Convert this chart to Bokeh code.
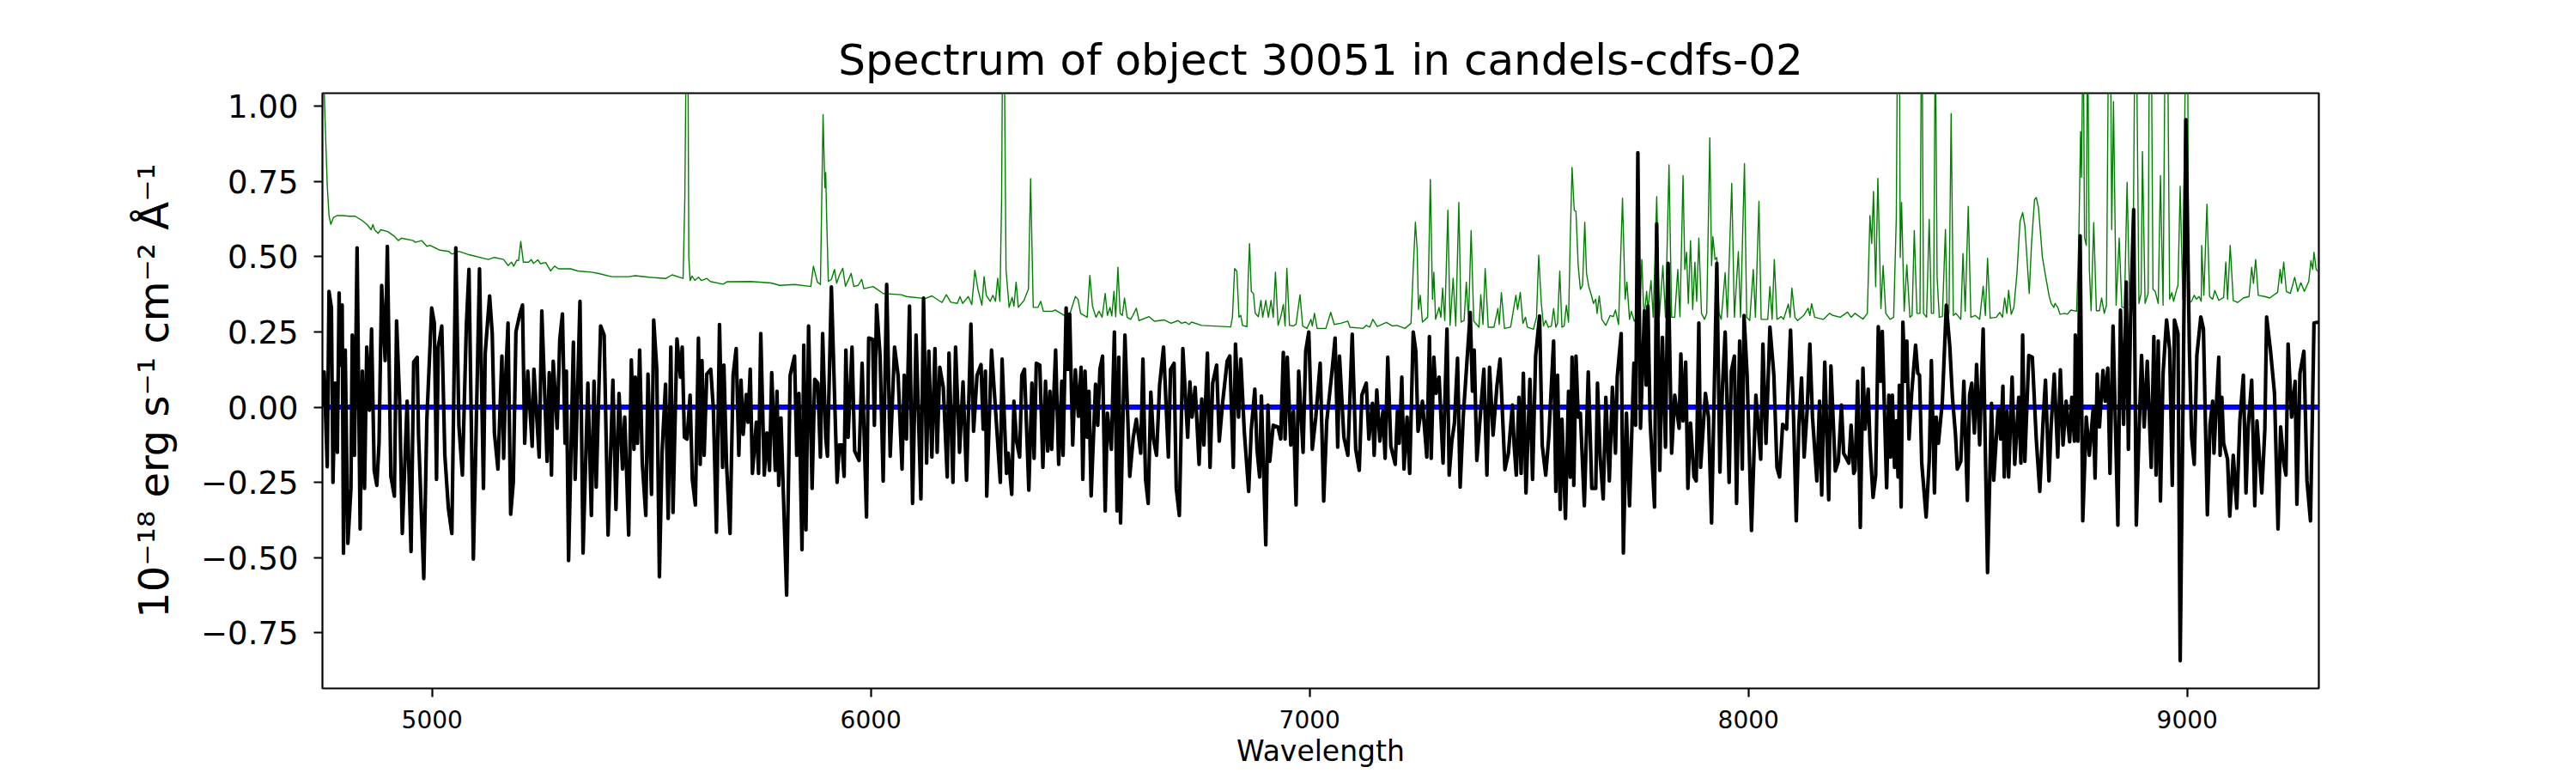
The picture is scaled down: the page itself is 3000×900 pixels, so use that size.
from bokeh.plotting import figure
from bokeh.models import Range1d, FixedTicker
from bokeh.embed import file_html
from bokeh.resources import INLINE

title_text = "Spectrum of object 30051 in candels-cdfs-02"
x_label = "Wavelength"
y_label = "10\u207b\u00b9\u2078 erg s\u207b\u00b9 cm\u207b\u00b2 \u00c5\u207b\u00b9"
x_ticks = [5000, 6000, 7000, 8000, 9000]
y_ticks = [-0.75, -0.5, -0.25, 0.0, 0.25, 0.5, 0.75, 1.0]
y_tick_labels = ["\u22120.75", "\u22120.50", "\u22120.25", "0.00", "0.25", "0.50", "0.75", "1.00"]
x_limits = [4750, 9300]
y_limits = [-0.935, 1.044]

# (wavelength, flux)
flux_a = [(4750,0.0),(4754,.117),(4761,-.198),(4765,.385),(4770.5,.33),(4774,-.25),(4779,.08),(4784,-.15),(4788,.38),(4791,.14),(4795,.34),(4798,-.486),(4802,.19),(4808,-.453),(4815,-.27),(4818,.24),(4823,-.16),(4829,.53),(4836,-.405),(4841,.12),(4846,-.27),(4851,.2),(4857,-.01),(4862,.26),(4868,-.21),(4874,-.26),(4879,-.12),(4885,.405),(4893,.155),(4898,.535),(4906,-.23),(4914,-.296),(4919,.287),(4926,.02),(4932,-.42),(4943,.02),(4952,-.48),(4958,.15),(4966,.166),(4969,-.09),(4981,-.57),(4988,-.04),(4999,.33),(5005,.28),(5010,-.24),(5014,.2),(5022,.27),(5029,-.16),(5037,-.335),(5045,-.42),(5054,.53),(5061,-.06),(5069,-.226),(5078,.27),(5084,.458),(5094,-.505),(5100,-.10),(5108,.46),(5117,-.27),(5121,.18),(5131,.37),(5137,.245),(5142,-.086),(5150,-.206),(5159,.17),(5163,-.17),(5168,.11),(5173,.28),(5179,-.356),(5185,-.25),(5191,.25),(5200,.31),(5206,.34),(5211,-.12),(5218,.12),(5228,-.13),(5232,.126),(5244,-.166),(5250,.32),(5262,-.18),(5267,.115),(5272,-.226),(5276,.153),(5285,-.07),(5291,.226),(5297,.31),(5303,-.12),(5306,.12),(5311,-.51),(5322,.216),(5326,-.24),(5337,.352),(5344,-.485),(5355,.08),(5363,-.36),(5369,.086),(5374,-.266),(5384,.27),(5392,.24),(5401,-.425),(5412,.09),(5419,-.34),(5426,.046),(5434,-.206),(5439,-.033),(5448,-.425),(5454,.157),(5460,-.14),(5463,.1),(5468,-.12),(5473,.19),(5479,-.186),(5487,-.36),(5492,.11),(5500,-.29),(5505,.29),(5512,.126),(5518,-.564),(5524,-.15),(5532,.076),(5538,-.37),(5544,.2),(5549,-.35),(5558,.227),(5566,.1),(5570,.2),(5575,-.1),(5581,-.106),(5588,.04),(5593,-.24),(5600,-.325),(5607,.23),(5611,-.19),(5615,.155),(5620,-.16),(5626,.11),(5635,.126),(5641,-.006),(5648,-.416),(5655,.275),(5662,-.2),(5665,.14),(5671,-.19),(5679,-.42),(5686,.106),(5693,.195),(5699,-.16),(5704,.09),(5709,-.09),(5716,.042),(5720,-.05),(5725,.126),(5730,-.22),(5739,-.05),(5744,-.22),(5749,.245),(5757,-.226),(5763,-.086),(5769,-.21),(5774,.115),(5782,-.21),(5786,.053),(5790,-.26),(5795,-.036),(5808,-.625),(5816,.106),(5826,.17),(5831,-.16),(5836,.046),(5843,-.474),(5847,.206),(5852,-.408),(5858,.27),(5866,-.27),(5872,.093),(5879,.08),(5885,-.166),(5890,.245),(5897,-.1),(5901,-.163),(5910,.40),(5923,-.25),(5928,-.126)]
flux_b = [(5934,-.126),(5939,-.23),(5943,.19),(5948,-.1),(5957,.2),(5963,-.146),(5973,-.177),(5980,.146),(5990,-.365),(5995,.23),(6004,.226),(6008,-.06),(6013,.34),(6021,.17),(6028,-.246),(6036,.408),(6044,-.163),(6054,.2),(6062,.106),(6071,-.206),(6076,.106),(6081,-.106),(6088,.336),(6095,-.32),(6103,.24),(6114,-.305),(6120,.3625),(6127,-.186),(6132,.186),(6139,-.166),(6146,.195),(6151,-.15),(6157,.133),(6165,.066),(6174,-.232),(6178,.18),(6187,-.25),(6193,.2),(6202,-.15),(6210,.084),(6218,-.243),(6228,.276),(6234,-.08),(6242,.106),(6251,.142),(6256,-.073),(6261,.12),(6264,-.296),(6275,.19),(6287,-.073),(6295,-.25),(6299,.16),(6309,-.22),(6313,-.153),(6321,-.29),(6326,.02),(6332,-.113),(6339,-.166),(6344,.106),(6350,.126),(6360,-.276),(6367,.08),(6372,-.17),(6377,.146),(6385,.14),(6392,-.2),(6398,.086),(6403,-.146),(6408,.053),(6412,-.14),(6421,.19),(6428,-.19),(6435,.086),(6438,-.16),(6445,.33),(6449,.126),(6453,.31),(6460,-.126),(6466,.124),(6473,-.03),(6479,.133),(6483,-.24),(6488,.12),(6493,-.1),(6497,.053),(6502,-.295),(6512,.076),(6517,-.06),(6522,.126),(6528,.17),(6534,-.345),(6539,-.02),(6548,-.14),(6555,.25),(6561,-.345),(6565,.166),(6569,-.385),(6579,.24),(6590,-.23),(6598,-.1),(6605,-.04),(6615,-.153),(6620,.16),(6626,-.24),(6632,-.32),(6638,.05),(6644,-.106),(6651,-.16),(6658,.073),(6667,.2),(6678,-.166),(6683,.126),(6691,.146),(6696,-.27),(6703,-.36),(6711,.195),(6722,-.1),(6727,.084),(6732,-.033),(6739,.066),(6748,-.19),(6754,.027),(6759,-.126),(6767,.18),(6773,-.2),(6779,.08),(6788,.14),(6794,-.113),(6802,.02),(6812,.153),(6818,.17),(6826,-.2),(6831,.21),(6838,-.033),(6843,.16),(6851,-.08),(6861,-.28),(6867,-.073),(6875,.06),(6880,-.14),(6886,-.232),(6890,.037),(6900,-.458),(6905,.007),(6909,-.18),(6917,-.06),(6928,-.066),(6934,-.106),(6940,.182),(6944,-.106),(6949,.166),(6957,-.126),(6963,-.013),(6969,-.325),(6975,.12),(6985,-.15),(6991,.186),(6998,.25),(7006,-.14),(7014,-.033),(7024,.146),(7032,-.312),(7039,-.046),(7051,.12),(7058,.23),(7064,-.133),(7068,.17),(7078,-.1),(7087,-.16),(7097,.243),(7105,-.14),(7113,-.21),(7119,.04),(7129,.08),(7135,-.106),(7143,.013)]
flux_c = [(7147,-.16),(7153,.057),(7160,-.113),(7167,-.013),(7172,-.17),(7178,.166),(7185,-.13),(7195,-.19),(7200,-.013),(7204,-.12),(7210,.1),(7215,-.206),(7222,-.033),(7228,-.22),(7236,.25),(7242,.186),(7247,-.08),(7257,.02),(7267,-.166),(7273,.235),(7277,-.17),(7283,.166),(7288,.046),(7295,.1),(7304,-.186),(7313,.26),(7318,-.226),(7324,-.113),(7330,-.053),(7337,.163),(7343,-.266),(7350,-.033),(7357,.12),(7366,.315),(7371,.053),(7375,.19),(7381,-.177),(7388,-.046),(7397,.126),(7404,-.226),(7410,.133),(7418,-.093),(7427,.073),(7434,.16),(7445,-.208),(7453,-.153),(7462,.007),(7466,-.126),(7471,-.226),(7477,.033),(7482,-.22),(7487,.113),(7493,-.285),(7502,.093),(7508,-.24),(7515,.17),(7524,.303),(7530,-.126),(7538,-.226),(7545,-.1),(7556,.22),(7561,-.28),(7565,.106),(7571,-.34),(7575,-.04),(7583,-.37),(7590,.053),(7594,-.233),(7598,.166),(7602,-.26),(7607,.17),(7612,-.033),(7617,-.02),(7626,-.328),(7635,.117),(7643,-.27),(7652,-.27),(7656,.08),(7662,-.166),(7669,-.305),(7675,.033),(7683,-.245),(7690,.066),(7697,-.153),(7701,.1),(7710,.245),(7715,-.485),(7722,-.02),(7729,-.328),(7739,.146),(7743,-.06),(7748,.846),(7754,-.07),(7763,.32),(7767,.073),(7771,.336),(7776,-.046),(7786,-.332),(7791,.61),(7798,-.21),(7804,.232),(7811,-.133),(7817,.478),(7825,-.153),(7832,.04),(7842,-.07),(7846,.177),(7851,-.046),(7857,.15),(7862,-.27),(7868,-.053),(7876,-.232),(7881,-.245),(7887,.28),(7891,-.2),(7902,.046),(7909,-.033),(7916,-.385),(7928,.478),(7935,-.216),(7941,.073),(7947,.25),(7956,-.25),(7961,.12),(7968,.17),(7973,-.32),(7980,.22),(7986,-.206),(7990,.305),(7997,.106),(8007,-.41),(8017,.04),(8028,-.173),(8033,.21),(8040,-.12),(8049,.266),(8058,.106),(8065,-.2),(8071,-.232),(8078,-.057),(8087,-.073),(8096,.256),(8103,-.04),(8109,-.378),(8115,-.06),(8121,.097),(8127,-.166),(8134,-.006),(8140,.21),(8146,-.033),(8156,-.245),(8162,.02),(8167,-.292),(8174,.15),(8183,-.308),(8188,.137),(8198,-.212),(8205,-.18),(8212,.007),(8217,-.153),(8229,-.186),(8234,-.06),(8240,-.22)]
flux_d = [(8243,-.21),(8249,.086),(8255,-.40),(8261,.13),(8266,-.073),(8273,.06),(8277,-.12),(8284,-.3),(8290,-.226),(8296,.268),(8301,.086),(8305,.252),(8315,-.268),(8320,.04),(8324,-.166),(8328,.04),(8333,-.2),(8337,-.046),(8341,-.232),(8344,.073),(8348,-.332),(8352,.283),(8357,.086),(8361,.22),(8366,-.106),(8372,.046),(8381,.206),(8386,.113),(8390,.106),(8395,-.186),(8405,-.365),(8412,-.18),(8417,.155),(8424,-.285),(8428,-.033),(8433,-.12),(8442,.02),(8451,.339),(8459,.2),(8465,.033),(8472,-.093),(8476,-.206),(8484,-.18),(8491,.086),(8499,-.31),(8504,.04),(8509,.08),(8515,-.086),(8520,.142),(8527,-.125),(8535,.26),(8545,-.55),(8554,.013),(8559,-.243),(8569,-.006),(8575,-.106),(8580,.07),(8583,-.232),(8589,-.013),(8593,-.232),(8601,.1),(8607,-.19),(8616,.033),(8621,-.186),(8625,.24),(8630,-.18),(8639,.172),(8647,.166),(8656,-.106),(8664,-.28),(8672,-.033),(8677,.09),(8685,-.245),(8690,-.06),(8697,.11),(8705,-.166),(8711,.124),(8717,-.126),(8724,.02),(8732,-.115),(8737,.033),(8743,-.113),(8745,.24),(8751,-.113),(8756,.57),(8762,-.378),(8770,-.033),(8777,-.16),(8786,0.0),(8790,-.236),(8795,.11),(8800,-.066),(8808,.122),(8813,.02),(8819,.13),(8824,-.22),(8831,.27),(8842,-.392),(8848,.323),(8855,-.057),(8861,.416),(8866,-.14),(8871,.3),(8878,.657),(8884,-.392),(8890,-.093),(8896,.172),(8902,-.066),(8909,.153),(8918,-.2),(8924,.235),(8929,-.226),(8934,.22),(8939,-.312),(8945,.113),(8953,.29),(8960,.193),(8966,-.26),(8971,.29),(8979,.245),(8984,-.843),(8991,.08),(8997,.956),(9005,.193),(9010,-.1),(9016,-.19),(9022,.172),(9031,.3),(9037,.26),(9046,-.358),(9052,-.06),(9058,.02),(9061,-.153),(9072,.166),(9075,-.16),(9079,.033),(9083,-.12),(9092,-.173),(9097,-.362),(9105,-.16),(9113,-.336),(9120,-.046),(9128,.106),(9134,-.285),(9139,-.066),(9147,.09),(9154,-.328),(9159,-.046),(9170,-.285),(9177,-.073),(9181,.3),(9190,.186),(9199,.046),(9207,-.405),(9213,-.066),(9220,-.186),(9225,-.226),(9230,.21),(9238,-.033),(9246,.086),(9250,-.323),(9257,.113),(9266,.186),(9273,-.245),(9281,-.378),(9289,.28),(9299,.283)]

sky_a = [(4750,1.3),(4755,1.0),(4761,.737),(4765,.637),(4769,.608),(4775,.63),(4783,.637),(4798,.637),(4810,.635),(4825,.635),(4841,.62),(4852,.607),(4861,.59),(4865,.607),(4869,.59),(4877,.578),(4883,.59),(4899,.584),(4914,.568),(4923,.554),(4930,.562),(4957,.554),(4962,.548),(4976,.554),(4988,.535),(4995,.538),(5018,.522),(5038,.518),(5045,.509),(5061,.518),(5084,.507),(5128,.491),(5142,.498),(5163,.491),(5173,.471),(5181,.482),(5186,.469),(5193,.489),(5197,.487),(5202,.551),(5208,.482),(5220,.482),(5226,.491),(5231,.478),(5241,.49),(5247,.477),(5259,.481),(5270,.453),(5279,.469),(5288,.46),(5316,.46),(5332,.453),(5363,.449),(5378,.445),(5409,.434),(5448,.434),(5463,.437),(5494,.432),(5533,.428),(5547,.44),(5572,.428),(5576,.697),(5579,1.2),(5583,1.2),(5585,.498),(5588,.421),(5592,.436),(5599,.422),(5607,.432),(5614,.421),(5626,.428),(5634,.418),(5663,.409),(5672,.417),(5727,.418),(5773,.413),(5792,.405),(5827,.408),(5863,.401),(5869,.469),(5878,.416),(5885,.408),(5891,.973),(5895,.73),(5897,.78),(5899,.644),(5903,.418),(5910,.425),(5917,.458),(5922,.412),(5928,.438)]
sky_b = [(5936,.462),(5942,.402),(5948,.421),(5955,.445),(5961,.401),(5971,.405),(5979,.425),(5984,.394),(6005,.401),(6028,.378),(6069,.374),(6081,.368),(6124,.361),(6139,.37),(6162,.348),(6172,.374),(6182,.349),(6197,.345),(6203,.368),(6209,.345),(6222,.368),(6230,.341),(6237,.455),(6244,.392),(6253,.339),(6258,.434),(6263,.372),(6272,.352),(6278,.372),(6284,.352),(6289,.429),(6294,.352),(6298,.697),(6300,1.2),(6304,1.2),(6308,.458),(6315,.332),(6322,.365),(6326,.336),(6331,.416),(6336,.332),(6349,.355),(6355,.378),(6359,.392),(6364,.76),(6370,.332),(6381,.332),(6387,.352),(6393,.319),(6414,.319),(6420,.323),(6441,.305),(6454,.312),(6466,.368),(6472,.359),(6478,.312),(6493,.299),(6499,.438),(6505,.336),(6513,.299),(6520,.319),(6527,.299),(6534,.378),(6539,.305),(6545,.332),(6549,.303),(6554,.385),(6558,.301),(6563,.465),(6568,.312),(6573,.305),(6578,.363),(6584,.299),(6592,.292),(6597,.305),(6605,.329),(6611,.288),(6634,.301),(6646,.286),(6669,.29),(6684,.279),(6700,.288),(6708,.279),(6717,.283),(6725,.275),(6731,.283),(6754,.272),(6820,.267),(6824,.299),(6829,.461),(6834,.452),(6839,.299),(6843,.305),(6847,.272),(6857,.268),(6860,.432),(6863,.544),(6867,.385),(6872,.378),(6876,.312),(6883,.301),(6889,.355),(6893,.299),(6900,.355),(6906,.299),(6912,.355),(6917,.299),(6922,.449),(6928,.272),(6934,.299),(6940,.341),(6944,.27),(6948,.462),(6954,.272),(6963,.27),(6969,.276),(6978,.374),(6984,.27),(6994,.262),(7003,.292),(7006,.27),(7011,.312),(7017,.262),(7037,.262),(7048,.315),(7056,.275),(7071,.279),(7087,.286),(7092,.266),(7122,.262),(7129,.272),(7137,.266),(7144,.292)]
sky_c = [(7154,.268),(7175,.282),(7189,.27),(7199,.272),(7217,.262),(7231,.279),(7236,.458),(7241,.615),(7245,.525),(7248,.325),(7252,.372),(7257,.283),(7269,.299),(7275,.757),(7280,.359),(7283,.449),(7287,.292),(7295,.332),(7299,.299),(7303,.396),(7308,.288),(7315,.655),(7320,.272),(7327,.429),(7333,.27),(7340,.681),(7345,.283),(7352,.288),(7357,.416),(7362,.286),(7368,.587),(7374,.286),(7386,.266),(7390,.374),(7395,.275),(7400,.461),(7407,.266),(7420,.266),(7429,.328),(7432,.275),(7437,.381),(7444,.262),(7458,.266),(7470,.372),(7474,.325),(7480,.382),(7486,.279),(7492,.299),(7496,.266),(7510,.259),(7517,.299),(7522,.505),(7528,.345),(7533,.27),(7538,.288),(7544,.266),(7551,.27),(7556,.328),(7561,.266),(7565,.279),(7570,.452),(7575,.266),(7580,.27),(7585,.339),(7590,.283),(7594,.564),(7598,.797),(7603,.655),(7607,.651),(7612,.471),(7617,.392),(7622,.405),(7627,.615),(7631,.445),(7636,.402),(7642,.372),(7647,.345),(7652,.359),(7655,.312),(7660,.37),(7666,.292),(7675,.272),(7685,.305),(7692,.301),(7697,.323),(7704,.275),(7713,.695),(7719,.359),(7723,.416),(7729,.292),(7733,.319),(7740,.286),(7745,.299),(7752,.286),(7757,.491),(7762,.292),(7768,.385),(7771,.325),(7778,.421),(7783,.299),(7791,.70),(7797,.299),(7805,.471),(7811,.299),(7819,.806),(7825,.299),(7832,.299),(7839,.458),(7844,.301),(7851,.77),(7855,.458),(7859,.515),(7863,.345),(7868,.554),(7873,.325),(7878,.482),(7882,.352),(7887,.562),(7893,.312),(7900,.292),(7905,.312),(7912,.896),(7916,.471),(7919,.567),(7924,.491),(7928,.498),(7933,.312),(7938,.292),(7947,.447),(7952,.299),(7962,.744),(7968,.299),(7977,.517),(7982,.299),(7991,.81),(7996,.299),(8003,.288),(8011,.458),(8016,.299),(8024,.684),(8029,.292),(8044,.292),(8049,.401),(8054,.292),(8059,.491),(8065,.292),(8075,.301),(8080,.292),(8091,.343),(8095,.299),(8099,.396),(8106,.299),(8112,.288),(8126,.305),(8136,.329),(8140,.305),(8144,.344),(8151,.299),(8171,.292),(8185,.312),(8193,.305),(8209,.299),(8226,.316),(8234,.299),(8243,.312)]
sky_d = [(8261,.293),(8271,.312),(8277,.637),(8281,.544),(8285,.717),(8290,.401),(8295,.761),(8302,.328),(8307,.471),(8313,.312),(8323,.292),(8331,.299),(8337,.63),(8340,1.3),(8344,1.3),(8346,.498),(8349,.681),(8355,.319),(8361,.474),(8368,.299),(8373,.305),(8378,.587),(8384,.312),(8391,.312),(8395,1.5),(8399,.312),(8406,.299),(8412,.624),(8417,.312),(8422,.312),(8426,1.3),(8430,.432),(8435,.299),(8442,.301),(8449,.591),(8453,.299),(8457,.312),(8462,.976),(8467,.305),(8473,.312),(8484,.292),(8489,.511),(8494,.319),(8501,.668),(8507,.299),(8517,.305),(8527,.292),(8535,.402),(8540,.305),(8545,.495),(8551,.296),(8565,.299),(8573,.315),(8579,.299),(8584,.363),(8589,.312),(8593,.389),(8599,.309),(8605,.332),(8612,.445),(8619,.618),(8625,.647),(8630,.604),(8640,.378),(8645,.538),(8652,.69),(8656,.697),(8661,.664),(8670,.498),(8677,.438),(8685,.372),(8690,.345),(8696,.332),(8699,.345),(8705,.332),(8710,.309),(8721,.312),(8727,.309),(8735,.323),(8748,.319),(8753,.564),(8757,.916),(8759,.764),(8763,1.3),(8766,.564),(8770,.538),(8773,1.3),(8777,.458),(8781,.321),(8787,.614),(8793,.321),(8800,.321),(8805,.363),(8811,.312),(8816,.339),(8821,1.3),(8825,1.3),(8828,.591),(8832,1.016),(8838,.339),(8845,.562),(8851,.332),(8857,.332),(8863,.748),(8869,.339),(8876,.352),(8881,1.3),(8884,1.3),(8890,.345),(8895,.378),(8898,.85),(8904,.345),(8911,.378),(8914,1.3),(8918,1.3),(8922,.392),(8927,.385),(8934,.345),(8939,.77),(8945,.339),(8950,1.3),(8955,1.3),(8960,.359),(8965,.381),(8969,.352),(8976,.392),(8979,.405),(8984,.734),(8990,.359),(8997,1.3),(9001,1.3),(9003,.345),(9010,.352),(9016,.372),(9021,.359),(9027,.368),(9032,.352),(9033,.538),(9038,.372),(9045,.675),(9051,.368),(9058,.359),(9063,.388),(9072,.355),(9081,.363),(9083,.365),(9088,.482),(9092,.359),(9098,.538),(9105,.355),(9115,.348),(9128,.363),(9141,.368),(9147,.465),(9151,.412),(9156,.491),(9162,.372),(9177,.368),(9188,.363),(9206,.382),(9212,.458),(9215,.412),(9220,.482),(9226,.385),(9235,.378),(9245,.432),(9252,.385),(9259,.414),(9267,.385),(9277,.418),(9282,.487),(9286,.458),(9289,.515),(9294,.458),(9299,.451)]

model_wave = [4760, 9300]
model_flux = [0.0, 0.0]

flux_pairs = flux_a + flux_b + flux_c + flux_d
sky_pairs = sky_a + sky_b + sky_c + sky_d

FONT = "DejaVu Sans"
p = figure(width=2990, height=898, output_backend="svg", toolbar_location=None,
           x_range=Range1d(*x_limits), y_range=Range1d(*y_limits),
           min_border_left=375, min_border_right=290, min_border_top=108, min_border_bottom=97)
p.background_fill_color = "white"
p.grid.visible = False
p.outline_line_color = "black"
p.outline_line_width = 2.2

p.title.text = title_text
p.title.align = "center"
p.title.text_font = FONT
p.title.text_font_style = "normal"
p.title.text_font_size = "50px"
p.title.text_color = "black"
p.title.standoff = 20

for ax in (p.xaxis[0], p.yaxis[0]):
    ax.major_tick_line_width = 2.2
    ax.major_tick_line_color = "black"
    ax.major_tick_in = 0
    ax.major_tick_out = 10
    ax.minor_tick_line_color = None
    ax.axis_line_color = None
    ax.major_label_text_font = FONT
    ax.major_label_text_color = "black"
    ax.axis_label_text_font = FONT
    ax.axis_label_text_font_style = "normal"
    ax.axis_label_text_color = "black"

p.xaxis[0].ticker = FixedTicker(ticks=x_ticks)
p.xaxis[0].major_label_overrides = {t: str(t) for t in x_ticks}
p.xaxis[0].major_label_text_font_size = "28px"
p.xaxis[0].axis_label = x_label
p.xaxis[0].axis_label_text_font_size = "33px"
p.xaxis[0].major_label_standoff = 15
p.xaxis[0].axis_label_standoff = 4

p.yaxis[0].ticker = FixedTicker(ticks=y_ticks)
p.yaxis[0].major_label_overrides = dict(zip(y_ticks, y_tick_labels))
p.yaxis[0].major_label_text_font_size = "37px"
p.yaxis[0].axis_label = y_label
p.yaxis[0].axis_label_text_font_size = "48px"
p.yaxis[0].major_label_standoff = 18
p.yaxis[0].axis_label_standoff = 24

p.line(model_wave, model_flux, line_color="#0000ff", line_width=6)
p.line([w for w, _ in sky_pairs], [f for _, f in sky_pairs], line_color="#008000", line_width=1.4, line_join="round")
p.line([w for w, _ in flux_pairs], [f for _, f in flux_pairs], line_color="black", line_width=4.2, line_join="round")

open("out.html", "w").write(file_html(p, INLINE))
